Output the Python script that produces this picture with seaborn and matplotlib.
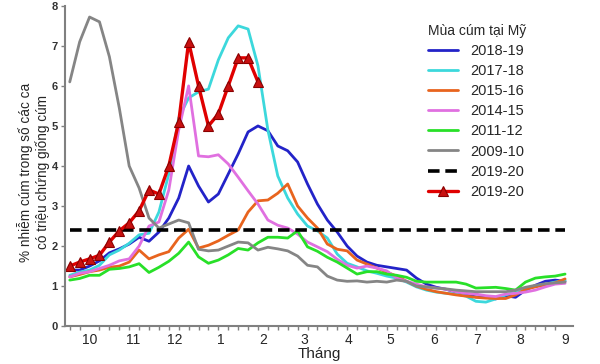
import numpy as np
import pandas as pd
import matplotlib
matplotlib.use("Agg")
import matplotlib.pyplot as plt
import seaborn as sns

# ---------------- data (weekly, week 0 = start of October) ----------------
weeks = list(range(51))
month_labels = ["10", "11", "12", "1", "2", "3", "4", "5", "6", "7", "8", "9"]
month_pos = [2.0, 6.4, 10.6, 15.2, 19.5, 23.7, 28.1, 32.4, 36.8, 41.1, 45.5, 50.0]

s2018_19 = [1.4, 1.4, 1.5, 1.63, 1.83, 1.93, 2.05, 2.22, 2.12, 2.35, 2.7, 3.2, 4.0, 3.5, 3.1,
            3.3, 3.8, 4.3, 4.85, 5.0, 4.88, 4.5, 4.38, 4.1, 3.55, 3.05, 2.65, 2.35, 2.0, 1.75,
            1.6, 1.52, 1.48, 1.44, 1.4, 1.2, 1.05, 0.97, 0.92, 0.85, 0.78, 0.73, 0.72, 0.68,
            0.76, 0.72, 0.9, 1.02, 1.12, 1.15, 1.12]
s2017_18 = [1.27, 1.35, 1.4, 1.52, 1.78, 1.9, 2.07, 2.28, 2.32, 2.85, 3.8, 5.2, 5.7, 5.85, 5.92,
            6.65, 7.2, 7.5, 7.42, 6.5, 4.9, 3.75, 3.2, 2.8, 2.5, 2.38, 2.2, 1.8, 1.57, 1.48,
            1.38, 1.32, 1.25, 1.2, 1.1, 0.98, 0.9, 0.85, 0.82, 0.8, 0.75, 0.62, 0.6, 0.68,
            0.78, 0.85, 0.92, 1.0, 1.05, 1.1, 1.15]
s2015_16 = [1.23, 1.29, 1.36, 1.4, 1.47, 1.5, 1.6, 1.9, 1.68, 1.78, 1.86, 2.2, 2.42, 1.95, 2.02,
            2.13, 2.27, 2.4, 2.85, 3.13, 3.15, 3.32, 3.55, 3.0, 2.7, 2.45, 2.05, 1.92, 1.88, 1.65,
            1.55, 1.45, 1.35, 1.25, 1.12, 1.0, 0.92, 0.86, 0.82, 0.78, 0.75, 0.72, 0.7, 0.69,
            0.69, 0.78, 0.92, 0.98, 1.03, 1.08, 1.18]
s2014_15 = [1.23, 1.32, 1.36, 1.44, 1.52, 1.63, 1.68, 2.0, 2.5, 2.6, 3.4, 4.9, 6.0, 4.25, 4.23,
            4.28, 4.05, 3.72, 3.38, 3.05, 2.65, 2.52, 2.45, 2.3, 2.1, 1.98, 1.86, 1.67, 1.52, 1.45,
            1.5, 1.45, 1.38, 1.2, 1.12, 1.05, 0.98, 0.95, 0.92, 0.86, 0.82, 0.8, 0.76, 0.74,
            0.8, 0.82, 0.85, 0.9, 0.98, 1.05, 1.07]
s2011_12 = [1.15, 1.19, 1.27, 1.27, 1.42, 1.44, 1.48, 1.56, 1.34, 1.47, 1.62, 1.82, 2.1, 1.73, 1.57,
            1.65, 1.78, 1.94, 1.9, 2.08, 2.22, 2.22, 2.2, 2.38, 1.98, 1.87, 1.72, 1.6, 1.45, 1.3,
            1.36, 1.36, 1.3, 1.27, 1.22, 1.12, 1.1, 1.1, 1.1, 1.1, 1.05, 0.95, 0.96, 0.97,
            0.94, 0.9, 1.1, 1.2, 1.23, 1.25, 1.3]
s2009_10 = [6.1, 7.1, 7.72, 7.6, 6.73, 5.45, 4.0, 3.45, 2.7, 2.45, 2.55, 2.65, 2.58, 1.92, 1.88,
            1.9, 2.0, 2.1, 2.08, 1.9, 1.97, 1.93, 1.88, 1.75, 1.52, 1.48, 1.25, 1.15, 1.12, 1.13,
            1.1, 1.12, 1.1, 1.15, 1.12, 1.0, 0.98, 0.95, 0.93, 0.9, 0.88, 0.86, 0.86, 0.86,
            0.86, 0.9, 0.97, 1.02, 1.06, 1.08, 1.1]
s2019_20 = [1.5, 1.6, 1.68, 1.77, 2.1, 2.38, 2.58, 2.88, 3.4, 3.3, 4.0, 5.1, 7.1, 6.0, 5.0,
            5.3, 6.0, 6.7, 6.7, 6.1]
baseline_x = [0, 50]
baseline_y = [2.4, 2.4]

series = [
    ("2018-19", s2018_19, "#2323c8"),
    ("2017-18", s2017_18, "#3cd8dc"),
    ("2015-16", s2015_16, "#e8641e"),
    ("2014-15", s2014_15, "#e070e0"),
    ("2011-12", s2011_12, "#28e028"),
    ("2009-10", s2009_10, "#858585"),
]

# ---------------- plot ----------------
sns.set_style("white")
plt.rcParams["font.family"] = ["Liberation Sans", "DejaVu Sans"]

fig = plt.figure(figsize=(6.0, 3.64), dpi=100)
ax = fig.add_axes([0.108, 0.104, 0.847, 0.880])

for name, vals, col in series:
    df = pd.DataFrame({"week": weeks[:len(vals)], "val": vals})
    sns.lineplot(data=df, x="week", y="val", ax=ax, color=col, lw=2.0, label=name)

dfb = pd.DataFrame({"week": baseline_x, "val": baseline_y})
sns.lineplot(data=dfb, x="week", y="val", ax=ax, color="black", lw=2.6,
             linestyle=(0, (3.2, 1.6)), label="2019-20")

dfr = pd.DataFrame({"week": weeks[:len(s2019_20)], "val": s2019_20})
sns.lineplot(data=dfr, x="week", y="val", ax=ax, color="#e00000", lw=2.4,
             marker="^", markersize=7, markerfacecolor="#c81010",
             markeredgecolor="#8a0000", markeredgewidth=0.8, label="2019-20")

ax.set_xlim(-0.5, 50.8)
ax.set_ylim(0, 8)
ax.set_yticks(range(0, 9))
ax.set_yticklabels([str(i) for i in range(0, 9)], fontsize=8, fontweight="bold", color="#333333")
ax.set_xticks(month_pos)
ax.set_xticklabels(month_labels, fontsize=10)
ax.set_xticks(weeks, minor=True)
ax.tick_params(axis="x", which="major", length=0, pad=5)
ax.tick_params(axis="x", which="minor", length=3, width=1, color="#808080", direction="out", bottom=True)
ax.tick_params(axis="y", which="major", length=3, width=1, color="#808080", direction="out",
               left=True, pad=2)

for s in ["top", "right"]:
    ax.spines[s].set_visible(False)
for s in ["left", "bottom"]:
    ax.spines[s].set_color("#808080")
    ax.spines[s].set_linewidth(1.5)

ax.set_xlabel("Tháng", fontsize=11, labelpad=0)
ax.set_ylabel("% nhiễm cúm trong số các ca\ncó triệu chứng giống cúm", fontsize=9.8,
              labelpad=2, linespacing=1.15)
ax.yaxis.set_label_coords(-0.03, 0.48)

leg = ax.legend(title="Mùa cúm tại Mỹ", loc="upper left", bbox_to_anchor=(0.688, 0.985),
                frameon=False, fontsize=10.5, title_fontsize=10, handlelength=2.1,
                labelspacing=0.42, handletextpad=0.8, alignment="left")

fig.savefig("out.png", dpi=100)
